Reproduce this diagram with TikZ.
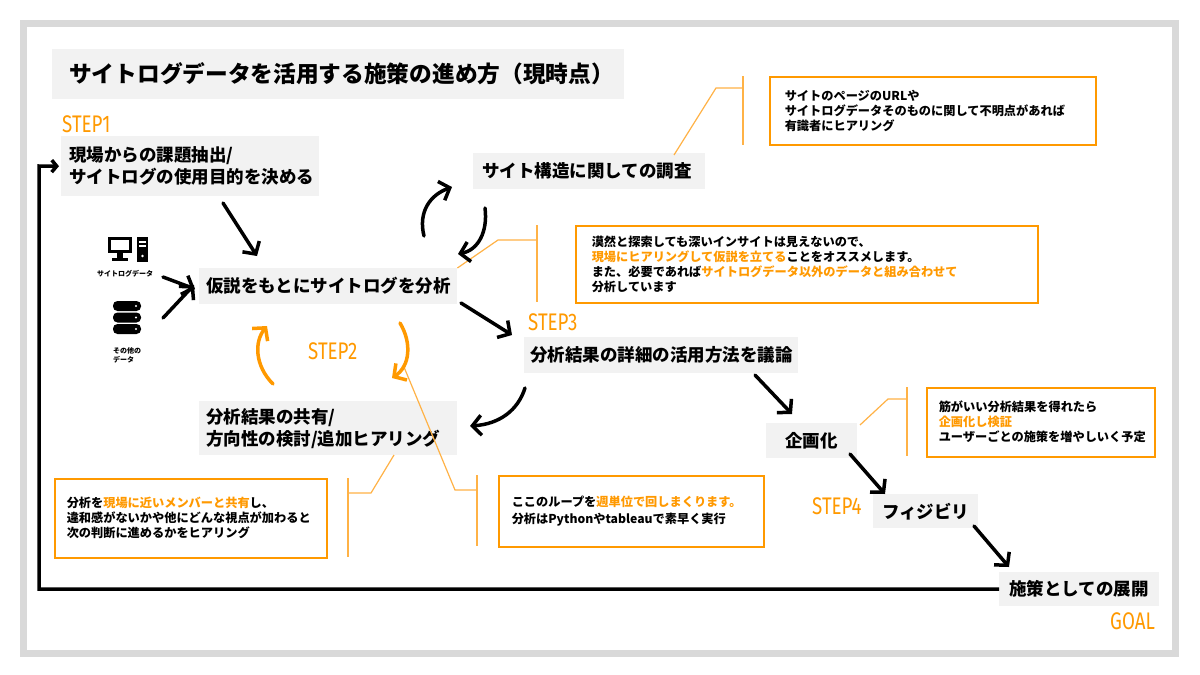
\documentclass[tikz,border=0pt]{standalone}
\usepackage{fontspec}
\setmainfont{Noto Sans CJK JP}
\newfontfamily\stepfont[FakeStretch=0.78]{Fira Sans}
\usetikzlibrary{arrows.meta}
\definecolor{org}{RGB}{255,153,0}
\definecolor{orgl}{RGB}{255,178,70}
\definecolor{boxgray}{RGB}{242,242,242}
\definecolor{framegray}{RGB}{217,217,217}
\begin{document}
\begin{tikzpicture}[x=1pt,y=-1pt,
  every node/.style={inner sep=0pt},
  gbox/.style={fill=boxgray, anchor=north west, align=left, font=\bfseries\fontsize{17.5}{22}\selectfont},
  cbox/.style={draw=org, line width=1.5pt, fill=white, anchor=north west, align=left, font=\bfseries\fontsize{12.2}{15}\selectfont},
  steplbl/.style={text=org, anchor=west, font=\stepfont\fontsize{24}{24}\selectfont},
  arr/.style={line width=3.5pt, line cap=round, -{Straight Barb[length=9pt,width=20pt]}},
  oarr/.style={arr, draw=org},
  brk/.style={draw=orgl, line width=1.2pt},
  icolbl/.style={font=\bfseries\fontsize{7}{9}\selectfont, align=left},
]
\fill[white] (0,0) rectangle (1200,675);
\useasboundingbox (0,0) rectangle (1200,675);
\draw[framegray, line width=7pt] (23.5,23.5) rectangle (1175.5,653.5);

% title
\node[gbox, minimum width=572pt, minimum height=50pt, text width=538pt, inner xsep=17pt,
      font=\bfseries\fontsize{22.7}{26}\selectfont] (title) at (52,49)
  {サイトログデータを活用する施策の進め方（現時点）};

% main boxes
\node[gbox, minimum height=60pt, text width=242pt, inner xsep=8pt] (n1) at (61,136)
  {現場からの課題抽出/\\サイトログの使用目的を決める};
\node[gbox, minimum height=36pt, text width=244pt, inner xsep=7pt] (n2) at (199,268)
  {仮説をもとにサイトログを分析};
\node[gbox, minimum height=36pt, text width=214pt, inner xsep=9pt] (site) at (473,153)
  {サイト構造に関しての調査};
\node[gbox, minimum height=36pt, text width=262pt, inner xsep=6pt] (gi) at (524,337)
  {分析結果の詳細の活用方法を議論};
\node[gbox, minimum height=54pt, text width=244pt, inner xsep=7pt] (kyoyu) at (199,401)
  {分析結果の共有/\\方向性の検討/追加ヒアリング};
\node[gbox, minimum width=91pt, minimum height=35pt] (kikaku) at (766,423) {企画化};
\node[gbox, minimum width=105pt, minimum height=34pt] (fiji) at (873,494) {フィジビリ};
\node[gbox, minimum width=160pt, minimum height=34pt] (tenkai) at (999,572) {施策としての展開};

% step labels
\node[steplbl] (s1) at (62,124) {STEP1};
\node[steplbl] (s2) at (308,351) {STEP2};
\node[steplbl] (s3) at (528,322) {STEP3};
\node[steplbl] (s4) at (812,506) {STEP4};
\node[steplbl] (goal) at (1110,621) {GOAL};

% callouts
\node[cbox, minimum height=68pt, text width=296pt, inner xsep=15pt] (c1) at (769,76)
  {サイトのページのURLや\\サイトログデータそのものに関して不明点があれば\\有識者にヒアリング};
\node[cbox, minimum height=77pt, text width=430pt, inner xsep=16pt] (c2) at (575,225)
  {漠然と探索しても深いインサイトは見えないので、\\\textcolor{org}{現場にヒアリングして仮説を立てる}ことをオススメします。\\また、必要であれば\textcolor{org}{サイトログデータ以外のデータと組み合わせて}\\分析しています};
\node[cbox, minimum height=79pt, text width=248pt, inner xsep=12pt] (c3) at (54,478)
  {分析を\textcolor{org}{現場に近いメンバーと共有}し、\\違和感がないかや他にどんな視点が加わると\\次の判断に進めるかをヒアリング};
\node[cbox, minimum height=71pt, text width=239pt, inner xsep=13pt,
      font=\bfseries\fontsize{12.2}{17}\selectfont] (c4) at (498,475)
  {ここのループを\textcolor{org}{週単位で回しまくります。}\\分析はPythonやtableauで素早く実行};
\node[cbox, minimum height=69pt, text width=204pt, inner xsep=12pt] (c5) at (926,387)
  {筋がいい分析結果を得れたら\\\textcolor{org}{企画化し検証}\\ユーザーごとの施策を増やしいく予定};

% brackets
\draw[brk] (674,155) -- (716,88) -- (743,88);
\draw[brk] (743,76) -- (743,145);
\draw[brk] (n2.north east) -- (498,240) -- (537,240);
\draw[brk] (537,225) -- (537,302);
\draw[brk] (394,455) -- (371,493) -- (348,493);
\draw[brk] (348,478) -- (348,557);
\draw[brk] (404,367) -- (455,490) -- (477,490);
\draw[brk] (477,475) -- (477,546);
\draw[brk] (860,425) -- (888,399) -- (907,399);
\draw[brk] (907,387) -- (907,456);

% icons
\draw[line width=3pt] (109.5,238.5) rectangle (130.5,251.5);
\fill (117,253) rectangle (123,258);
\fill (112,258) rectangle (128,261);
\fill (137,237) rectangle (148,262);
\fill[white] (139,241) rectangle (146,243);
\fill[white] (139,245) rectangle (146,247);
\fill[white] (142.5,256) circle (1.3);
\node[icolbl] (ic1) at (125,274) {サイトログデータ};
\foreach \yy in {301,312.5,324}{
  \fill[rounded corners=4.5pt] (113,\yy) rectangle (141,\yy+10);
  \fill[white] (136,\yy+5) circle (1.1);
}
\node[icolbl, anchor=west] (ic2) at (113,355) {その他の\\データ};

% straight arrows
\coordinate (a1s) at (223,203); \coordinate (a1e) at (257,256);
\coordinate (a2s) at (163,277); \coordinate (a2e) at (195,289);
\coordinate (a3s) at (163,318); \coordinate (a3e) at (194,285);
\coordinate (a4s) at (461,303); \coordinate (a4e) at (512,335);
\coordinate (a5s) at (755,375); \coordinate (a5e) at (792,414);
\coordinate (a6s) at (850,454); \coordinate (a6e) at (885,494);
\coordinate (a7s) at (974,526); \coordinate (a7e) at (1009,567);
\draw[arr] (a1s) -- (a1e);
\draw[arr] (a2s) -- (a2e);
\draw[arr] (a3s) -- (a3e);
\draw[arr] (a4s) -- (a4e);
\draw[arr] (a5s) -- (a5e);
\draw[arr] (a6s) -- (a6e);
\draw[arr] (a7s) -- (a7e);

% curved arrows
\coordinate (cas) at (424,236); \coordinate (cae) at (452,187);
\draw[arr] (cas) .. controls (418,212) and (430,195) .. (cae);
\coordinate (cbs) at (485,208); \coordinate (cbe) at (458,254);
\draw[arr] (cbs) .. controls (488,232) and (478,250) .. (cbe);
\coordinate (ccs) at (525,388); \coordinate (cce) at (470,426);
\draw[arr] (ccs) .. controls (518,410) and (500,424) .. (cce);
\coordinate (cds) at (273,384); \coordinate (cde) at (267,326);
\draw[oarr] (cds) .. controls (255,366) and (254,342) .. (cde);
\coordinate (ces) at (400,323); \coordinate (cee) at (392,378);
\draw[oarr] (ces) .. controls (412,343) and (410,366) .. (cee);

% feedback loop
\coordinate (lc1) at (39,589);
\coordinate (lc2) at (39,166);
\draw[line width=3.5pt, -{Straight Barb[length=5pt,width=12pt]}, shorten >=2pt]
  (tenkai.west) -- (lc1) -- (lc2) -- (n1.west);
\end{tikzpicture}
\end{document}
